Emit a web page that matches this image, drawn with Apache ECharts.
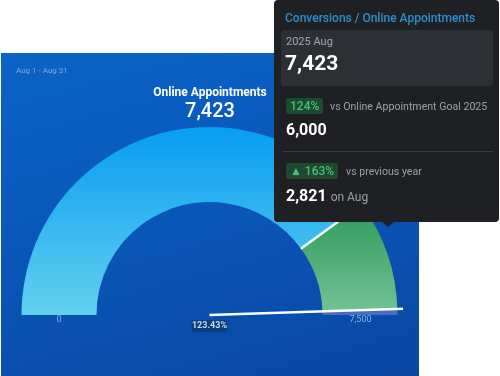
<!DOCTYPE html>
<html>
<head>
<meta charset="utf-8">
<script src="https://cdn.jsdelivr.net/npm/echarts@6/dist/echarts.min.js"></script>
<style>
html, body { margin: 0; padding: 0; width: 500px; height: 376px; overflow: hidden; background: #fff; font-family: Roboto, sans-serif; }
#card { position: absolute; left: 1px; top: 53px; width: 418px; height: 323px;
  background: linear-gradient(165deg, #0b64c7 0%, #0a57b9 45%, #0947a3 100%); }
#tip { position: absolute; left: 274px; top: 0; width: 225px; height: 222px; background: #1e2024; border-radius: 4px; color: #fff; }
#tip div, #tip span { position: absolute; white-space: nowrap; }
#tip .hd { left: 11px; top: 10px; font-size: 12px; line-height: 16px; color: #2b8fd3; font-weight: 500; }
#tip .box { left: 7px; top: 30px; width: 212px; height: 56px; background: #2c2f34; border-radius: 3px; }
#tip .lbl { left: 12px; top: 35px; font-size: 11px; line-height: 14px; color: #a3a7ad; }
#tip .big { left: 11px; top: 51px; font-size: 21px; line-height: 24px; font-weight: 700; }
#tip .badge { height: 16px; line-height: 16px; padding: 0 4px; background: #1d4a31; color: #45c274; font-size: 12px; font-weight: 500; border-radius: 2px; }
#tip .muted { font-size: 10.6px; line-height: 14px; color: #9ca0a6; }
#tip .val { left: 12px; font-size: 16px; line-height: 18px; font-weight: 700; }
#tip .sep { left: 9px; top: 151px; width: 210px; height: 1px; background: #3a3d42; }
#tip .arrow { left: 108px; top: 222px; width: 0; height: 0; border-left: 6px solid transparent; border-right: 6px solid transparent; border-top: 5px solid #1e2024; }
</style>
</head>
<body>
<div id="card"></div>
<div id="tip"></div>
<script>
var periodLabel = 'Aug 1 - Aug 31';
var metricName = 'Online Appointments';
var tipTitle = 'Conversions / Online Appointments';
var periodName = '2025 Aug';
var gaugeRange = [0, 7500];
var actualValue = [7423];
var goalValue = [6000];
var prevYearValue = [2821];
var goalLabel = 'vs Online Appointment Goal 2025';
var prevLabel = 'vs previous year';
var prevPeriod = 'on Aug';
var pointerLabel = ['123.43%'];

function fmt(v) { return v.toLocaleString('en-US'); }

// tooltip panel
var goalPct = Math.round(actualValue[0] / goalValue[0] * 100);
var yoyPct = Math.round((actualValue[0] / prevYearValue[0] - 1) * 100);
document.getElementById('tip').innerHTML =
	'<div class="hd">' + tipTitle + '</div>' +
	'<div class="box"></div>' +
	'<div class="lbl">' + periodName + '</div>' +
	'<div class="big">' + fmt(actualValue[0]) + '</div>' +
	'<span class="badge" style="left:12px;top:98px">' + goalPct + '%</span>' +
	'<span class="muted" style="left:56px;top:100px">' + goalLabel + '</span>' +
	'<div class="val" style="top:121px">' + fmt(goalValue[0]) + '</div>' +
	'<div class="sep"></div>' +
	'<span class="badge" style="left:12px;top:163px">\u25B2 ' + yoyPct + '%</span>' +
	'<span class="muted" style="left:72px;top:165px">' + prevLabel + '</span>' +
	'<div class="val" style="top:187px">' + fmt(prevYearValue[0]) +
	' <span class="muted" style="position:static;font-weight:400;font-size:12px">' + prevPeriod + '</span></div>' +
	'<div class="arrow"></div>';

var chart = echarts.init(document.getElementById('card'));
var max = gaugeRange[1];

var blueGrad = new echarts.graphic.LinearGradient(0, 0, 0, 1, [
	{ offset: 0, color: '#069df2' },
	{ offset: 1, color: '#63d0ee' }
]);
var greenGrad = new echarts.graphic.LinearGradient(0, 0, 0, 1, [
	{ offset: 0, color: '#2a9a58' },
	{ offset: 1, color: '#72c294' }
]);

var center = [208.5, 262];
var option = {
	title: [{
		text: periodLabel, left: 15, top: 14, padding: 0,
		textStyle: { color: '#7fa6d8', fontSize: 8, fontWeight: 'normal', fontFamily: 'Roboto' }
	}, {
		text: metricName, left: 'center', top: 34, padding: 0,
		textStyle: { color: '#fff', fontSize: 12, fontWeight: 'bold', fontFamily: 'Roboto' }
	}, {
		text: fmt(actualValue[0]), left: 'center', top: 49, padding: 0,
		textStyle: { color: '#fff', fontSize: 20, fontWeight: 500, fontFamily: 'Roboto' }
	}],
	series: [{
		type: 'gauge',
		center: center,
		radius: 188,
		startAngle: 180,
		endAngle: 0,
		min: gaugeRange[0],
		max: max,
		splitNumber: 1,
		axisLine: {
			lineStyle: {
				width: 75,
				color: [
					[goalValue[0] / max, blueGrad],
					[actualValue[0] / max, greenGrad],
					[1, 'rgba(205,170,215,0.35)']
				]
			}
		},
		axisTick: { show: false },
		splitLine: { show: false, length: 0, distance: 0 },
		axisLabel: {
			distance: 26,
			color: 'rgba(170,200,240,0.8)',
			fontSize: 9,
			fontFamily: 'Roboto',
			formatter: function (v) { return v === gaugeRange[0] ? '{l|' + fmt(v) + '}' : '{r|' + fmt(v) + '}'; },
			rich: {
				l: { padding: [9, 0, 0, 9], color: 'rgba(170,200,240,0.8)', fontSize: 9, fontFamily: 'Roboto' },
				r: { padding: [9, 0, 0, 0], color: 'rgba(170,200,240,0.8)', fontSize: 9, fontFamily: 'Roboto' }
			}
		},
		pointer: { icon: 'rect', width: 2.5, length: '103%', itemStyle: { color: '#fff' } },
		anchor: { show: false },
		title: { show: false },
		detail: {
			offsetCenter: [0, 11],
			formatter: function () { return pointerLabel[0]; },
			width: 32,
			height: 10,
			lineHeight: 10,
			backgroundColor: '#0c3e7c',
			borderRadius: 3,
			padding: [1, 2],
			color: '#c9d9ef',
			fontSize: 9,
			fontWeight: 'bold',
			fontFamily: 'Roboto'
		},
		data: [{ value: actualValue[0] }]
	}, {
		type: 'gauge',
		center: center,
		radius: 188,
		startAngle: 180,
		endAngle: 0,
		min: gaugeRange[0],
		max: max,
		axisLine: { show: false },
		axisTick: { show: false },
		splitLine: { show: false },
		axisLabel: { show: false },
		pointer: { icon: 'rect', width: 2.5, length: '41%', offsetCenter: [0, '-60%'], itemStyle: { color: '#fff' } },
		anchor: { show: false },
		title: { show: false },
		detail: { show: false },
		data: [{ value: goalValue[0] }]
	}]
};
chart.setOption(option);
</script>
</body>
</html>
